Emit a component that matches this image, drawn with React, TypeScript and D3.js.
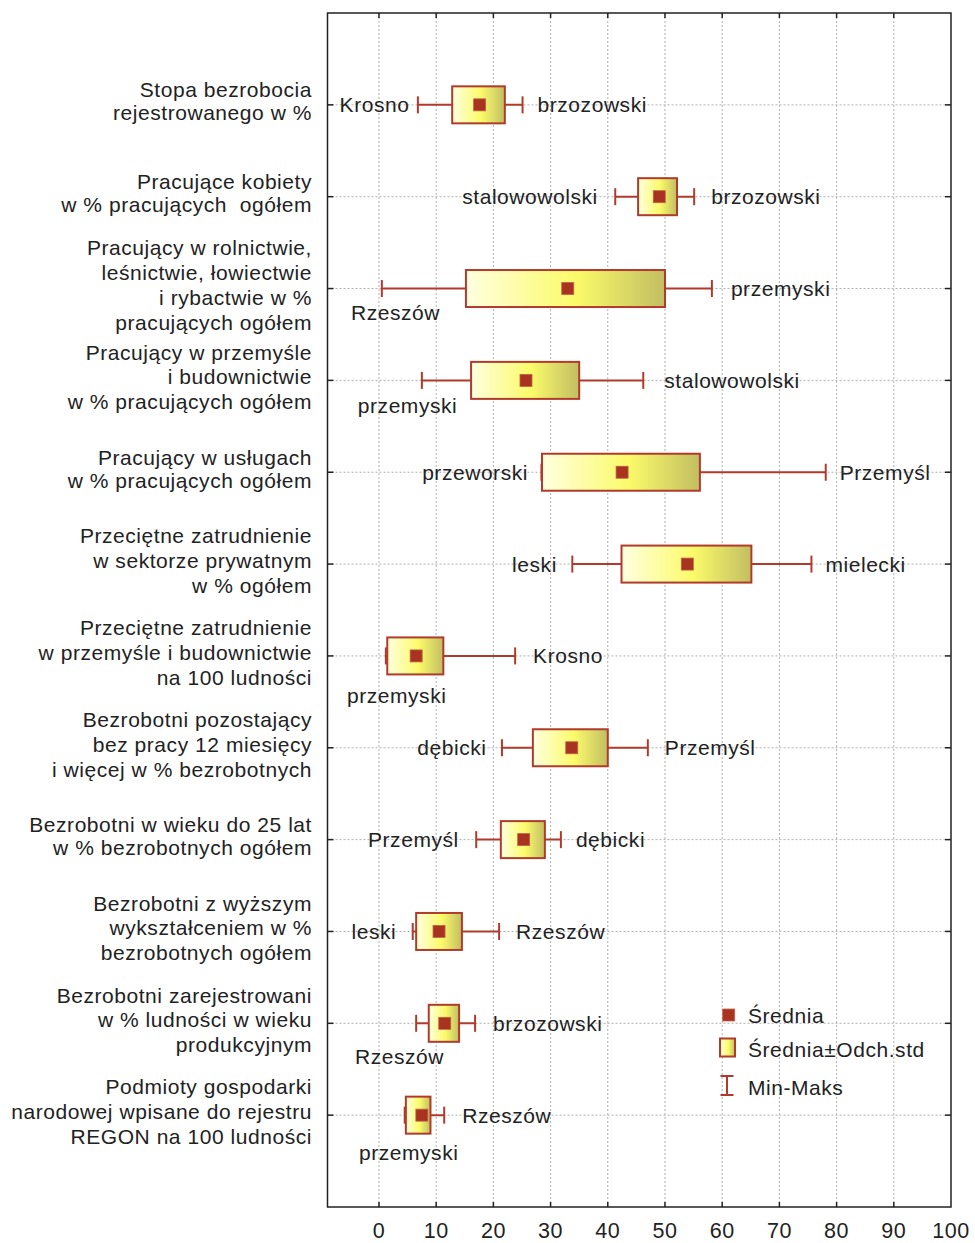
import React from "react";
import * as d3 from "d3";

const categories: string[][] = [
  ["Stopa bezrobocia", "rejestrowanego w %"],
  ["Pracujące kobiety", "w % pracujących  ogółem"],
  ["Pracujący w rolnictwie,", "leśnictwie, łowiectwie", "i rybactwie w %", "pracujących ogółem"],
  ["Pracujący w przemyśle", "i budownictwie", "w % pracujących ogółem"],
  ["Pracujący w usługach", "w % pracujących ogółem"],
  ["Przeciętne zatrudnienie", "w sektorze prywatnym", "w % ogółem"],
  ["Przeciętne zatrudnienie", "w przemyśle i budownictwie", "na 100 ludności"],
  ["Bezrobotni pozostający", "bez pracy 12 miesięcy", "i więcej w % bezrobotnych"],
  ["Bezrobotni w wieku do 25 lat", "w % bezrobotnych ogółem"],
  ["Bezrobotni z wyższym", "wykształceniem w %", "bezrobotnych ogółem"],
  ["Bezrobotni zarejestrowani", "w % ludności w wieku", "produkcyjnym"],
  ["Podmioty gospodarki", "narodowej wpisane do rejestru", "REGON na 100 ludności"],
];

const minVals = [6.8, 41.3, 0.5, 7.5, 28.4, 33.8, 1.2, 21.5, 17.0, 5.9, 6.5, 4.5];
const lowVals = [12.8, 45.3, 15.2, 16.1, 28.5, 42.4, 1.45, 26.9, 21.3, 6.5, 8.7, 4.7];
const meanVals = [17.6, 49.0, 33.0, 25.7, 42.5, 53.9, 6.5, 33.7, 25.3, 10.5, 11.5, 7.5];
const highVals = [22.0, 52.1, 50.0, 35.0, 56.1, 65.1, 11.25, 40.0, 29.0, 14.5, 14.0, 9.0];
const maxVals = [25.1, 55.1, 58.2, 46.2, 78.1, 75.6, 23.8, 47.0, 31.8, 21.0, 16.8, 11.4];

const minNames = ["Krosno", "stalowowolski", "Rzeszów", "przemyski", "przeworski", "leski", "przemyski", "dębicki", "Przemyśl", "leski", "Rzeszów", "przemyski"];
const maxNames = ["brzozowski", "brzozowski", "przemyski", "stalowowolski", "Przemyśl", "mielecki", "Krosno", "Przemyśl", "dębicki", "Rzeszów", "brzozowski", "Rzeszów"];

const xTicks = [0, 10, 20, 30, 40, 50, 60, 70, 80, 90, 100];
const legendItems = ["Średnia", "Średnia±Odch.std", "Min-Maks"];

// label layout (annotation placement, in px)
const minLabelGap = [9, 18, 0, 0, 14, 16, 0, 16, 18, 17, 0, 0];
const maxLabelGap = [15, 17, 19, 21, 14, 14, 18, 17, 15, 17, 18, 18];
const belowLabelStart: Record<number, number> = { 2: -4.9, 3: -3.7, 6: -5.6, 10: -4.2, 11: -3.5 };
const belowLabelDy: Record<number, number> = { 2: 31, 3: 33, 6: 47, 10: 41, 11: 45 };

const W = 975;
const H = 1243;
const left = 327.5;
const right = 951;
const top = 13;
const bottom = 1207;

const FONT = "'Liberation Sans', Arial, sans-serif";
const TEXT = "#222";
const RED = "#b03b2c";
const MEANRED = "#a8331f";
const LS = 0.55;

export default function App() {
  const x = d3.scaleLinear().domain([-9, 100]).range([left, right]);
  const y = d3.scaleLinear().domain([0, categories.length + 1]).range([top, bottom]);
  const boxH = 37;
  const sq = 12;
  const cap = 17;
  const fs = 21;

  return (
    <svg width={W} height={H} style={{ position: "absolute", left: 0, top: 0, background: "#fff" }} fontFamily={FONT}>
      <defs>
        <linearGradient id="boxGrad" x1="0" x2="1" y1="0" y2="0">
          <stop offset="0" stopColor="#ffffe0" />
          <stop offset="0.55" stopColor="#fbfb6a" />
          <stop offset="1" stopColor="#c2be62" />
        </linearGradient>
      </defs>
      <rect x={0} y={0} width={W} height={H} fill="#fff" />

      {/* vertical grid */}
      {xTicks.filter((t) => t < 100).map((t) => (
        <line key={"vg" + t} x1={x(t)} x2={x(t)} y1={top} y2={bottom} stroke="#b0b0b0" strokeWidth={1} strokeDasharray="2,2" />
      ))}
      {/* horizontal grid */}
      {categories.map((_, i) => (
        <line key={"hg" + i} x1={left} x2={right} y1={y(i + 1)} y2={y(i + 1)} stroke="#b0b0b0" strokeWidth={1} strokeDasharray="2,2" />
      ))}

      {/* frame */}
      <rect x={left} y={top} width={right - left} height={bottom - top} fill="none" stroke="#222" strokeWidth={1.5} />
      {xTicks.filter((t) => t < 100).map((t) => (
        <g key={"tk" + t}>
          <line x1={x(t)} x2={x(t)} y1={top} y2={top + 5} stroke="#222" strokeWidth={1.5} />
          <line x1={x(t)} x2={x(t)} y1={bottom} y2={bottom - 5} stroke="#222" strokeWidth={1.5} />
        </g>
      ))}
      {categories.map((_, i) => (
        <g key={"yt" + i}>
          <line x1={left} x2={left + 6} y1={y(i + 1)} y2={y(i + 1)} stroke="#222" strokeWidth={1.5} />
          <line x1={right} x2={right - 6} y1={y(i + 1)} y2={y(i + 1)} stroke="#222" strokeWidth={1.5} />
        </g>
      ))}

      {/* x tick labels */}
      {xTicks.map((t) => (
        <text key={"xl" + t} x={x(t)} y={1238} textAnchor="middle" fontSize={21.5} letterSpacing={LS} fill={TEXT}>
          {t}
        </text>
      ))}

      {/* category labels */}
      {categories.map((lines, i) => {
        const cy = y(i + 1);
        const sp = lines.length > 2 ? 24.8 : 23;
        return (
          <text key={"cl" + i} textAnchor="end" fontSize={fs} letterSpacing={LS} fill={TEXT}>
            {lines.map((l, k) => (
              <tspan key={k} x={312} y={cy + (k - (lines.length - 1) / 2) * sp + 4} style={{ whiteSpace: "pre" }}>
                {l}
              </tspan>
            ))}
          </text>
        );
      })}

      {/* boxes */}
      {categories.map((_, i) => {
        const cy = y(i + 1);
        const below = belowLabelStart[i] !== undefined;
        return (
          <g key={"bx" + i}>
            <line x1={x(minVals[i])} x2={x(maxVals[i])} y1={cy} y2={cy} stroke={RED} strokeWidth={2} />
            <line x1={x(minVals[i])} x2={x(minVals[i])} y1={cy - cap / 2} y2={cy + cap / 2} stroke={RED} strokeWidth={2} />
            <line x1={x(maxVals[i])} x2={x(maxVals[i])} y1={cy - cap / 2} y2={cy + cap / 2} stroke={RED} strokeWidth={2} />
            <rect x={x(lowVals[i])} y={cy - boxH / 2} width={x(highVals[i]) - x(lowVals[i])} height={boxH} fill="url(#boxGrad)" stroke={RED} strokeWidth={2} />
            <rect x={x(meanVals[i]) - sq / 2} y={cy - sq / 2} width={sq} height={sq} fill={MEANRED} stroke="#c0604c" strokeWidth={0.8} />
            {below ? (
              <text x={x(belowLabelStart[i])} y={cy + belowLabelDy[i]} fontSize={fs} letterSpacing={LS} fill={TEXT}>
                {minNames[i]}
              </text>
            ) : (
              <text x={x(minVals[i]) - minLabelGap[i] + LS} y={cy + 7.5} textAnchor="end" fontSize={fs} letterSpacing={LS} fill={TEXT}>
                {minNames[i]}
              </text>
            )}
            <text x={x(maxVals[i]) + maxLabelGap[i]} y={cy + 7.5} fontSize={fs} letterSpacing={LS} fill={TEXT}>
              {maxNames[i]}
            </text>
          </g>
        );
      })}

      {/* legend */}
      <g>
        <rect x={722.7} y={1009} width={12} height={12} fill={MEANRED} stroke="#c0604c" strokeWidth={0.8} />
        <rect x={720} y={1038.5} width={15} height={18} fill="url(#boxGrad)" stroke={RED} strokeWidth={2} />
        <line x1={727} x2={727} y1={1076} y2={1095} stroke={RED} strokeWidth={2} />
        <line x1={720.5} x2={733.5} y1={1076} y2={1076} stroke={RED} strokeWidth={2} />
        <line x1={720.5} x2={733.5} y1={1095} y2={1095} stroke={RED} strokeWidth={2} />
        {legendItems.map((t, k) => (
          <text key={t} x={748} y={[1022.5, 1057, 1095][k]} fontSize={fs} letterSpacing={LS} fill={TEXT}>
            {t}
          </text>
        ))}
      </g>
    </svg>
  );
}
